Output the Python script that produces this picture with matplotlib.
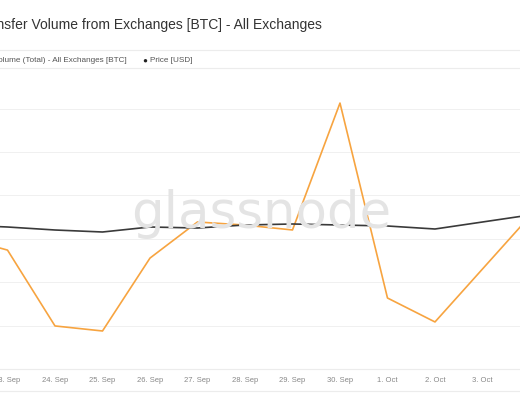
import matplotlib
matplotlib.use('Agg')
import matplotlib.pyplot as plt
from matplotlib.lines import Line2D
from matplotlib.transforms import blended_transform_factory

plt.rcParams['font.family'] = ['Liberation Sans', 'DejaVu Sans']

# data: 22 Sep .. 4 Oct (first and last points fall outside the crop)
day_labels = ['22. Sep', '23. Sep', '24. Sep', '25. Sep', '26. Sep', '27. Sep', '28. Sep',
              '29. Sep', '30. Sep', '1. Oct', '2. Oct', '3. Oct', '4. Oct']
volume_btc = [76000, 68500, 24800, 21900, 63900, 84700, 82900,
              80100, 153200, 40900, 27100, 57600, 88100]
price_usd = [19480, 19300, 19030, 18850, 19300, 19210, 19480,
             19570, 19480, 19390, 19120, 19750, 20380]

x = list(range(-1, len(day_labels) - 1))

fig = plt.figure(figsize=(5.2, 4), dpi=100)
ax = fig.add_axes([0, 1 - 369 / 400, 1, (369 - 68) / 400])
ax2 = ax.twinx()

ax.set_xlim(-0.158, 10.79)
ax.set_ylim(0, 173400)
ax2.set_ylim(6520, 33610)

# gridlines
for v in range(25000, 175000, 25000):
    ax.axhline(v, color='#f0f0f0', lw=0.7, zorder=0)

ax.plot(x, volume_btc, color='#f7a440', lw=1.2, zorder=3)
ax2.plot(x, price_usd, color='#3a3a3a', lw=1.2, zorder=3)

for a in (ax, ax2):
    for s in a.spines.values():
        s.set_visible(False)
    a.set_xticks([])
    a.set_yticks([])
    a.patch.set_visible(False)

# watermark
fig.text(261 / 520, 1 - 228 / 400, 'glassnode', fontsize=37, color='#e4e4e4',
         ha='center', va='baseline', family='DejaVu Sans', zorder=0)

# x labels (drawn as text so the clipped ones at the edges show)
trans = blended_transform_factory(ax.transData, fig.transFigure)
for i, lab in zip(x, day_labels):
    if i < 0:
        continue
    ax.text(i, 1 - 380 / 400, lab, transform=trans, ha='center', va='center',
            fontsize=5.5, color='#888888', clip_on=False)

# frame lines
for yp in (50, 68, 369, 391):
    fig.add_artist(Line2D([0, 1], [1 - yp / 400] * 2, color='#ececec', lw=0.8))

# title and legend, cropped at left edge
fig.text(322 / 520, 1 - 25 / 400, 'Transfer Volume from Exchanges [BTC] - All Exchanges',
         ha='right', va='center', fontsize=10, color='#333333')
fig.text(127 / 520, 1 - 61 / 400, '\u25cf Transfer Volume (Total) - All Exchanges [BTC]',
         ha='right', va='center', fontsize=5.9, color='#555555')
fig.text(142 / 520, 1 - 61 / 400, '\u25cf', ha='left', va='center', fontsize=5.9, color='#222222')
fig.text(150 / 520, 1 - 61 / 400, 'Price [USD]', ha='left', va='center', fontsize=5.9, color='#555555')

fig.savefig('out.png', dpi=100)
